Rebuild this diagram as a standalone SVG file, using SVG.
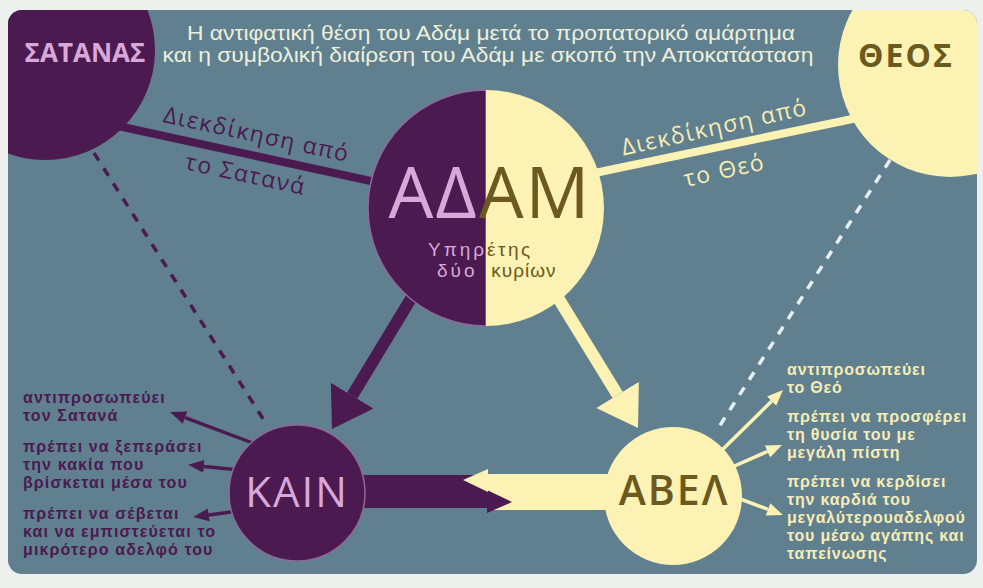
<svg xmlns="http://www.w3.org/2000/svg" width="983" height="588" viewBox="0 0 983 588">
<defs>
<clipPath id="panelClip"><rect x="8" y="10" width="969" height="564" rx="14"/></clipPath>
<marker id="bigP" markerUnits="userSpaceOnUse" markerWidth="40" markerHeight="52" viewBox="0 -26 40 52" refX="0" refY="0" orient="auto"><path d="M0,-25 L39,0 L0,25 z" fill="#4b1a50"/></marker>
<marker id="bigY" markerUnits="userSpaceOnUse" markerWidth="40" markerHeight="52" viewBox="0 -26 40 52" refX="0" refY="0" orient="auto"><path d="M0,-25 L39,0 L0,25 z" fill="#fbf2b3"/></marker>
<marker id="smP" markerUnits="userSpaceOnUse" markerWidth="17" markerHeight="14" viewBox="0 -7 17 14" refX="0" refY="0" orient="auto"><path d="M0,-6.5 L16,0 L0,6.5 z" fill="#4b1a50"/></marker>
<marker id="smY" markerUnits="userSpaceOnUse" markerWidth="17" markerHeight="14" viewBox="0 -7 17 14" refX="0" refY="0" orient="auto"><path d="M0,-6.5 L16,0 L0,6.5 z" fill="#fbf2b3"/></marker>
</defs>
<style>
text{font-family:"Open Sans","Noto Sans","DejaVu Sans",sans-serif;}
.small{font-family:"Liberation Sans","DejaVu Sans",sans-serif;}
.title{font-size:19.5px;fill:#eef0dc;text-anchor:middle;}
.pur{fill:#4b1a50;}
.yel{fill:#fbf2b3;}
.pink{fill:#d8a8d8;}
.olive{fill:#6b5920;}
.noteL{font-size:16px;font-weight:700;fill:#4b1a50;letter-spacing:1.1px;}
.noteR{font-size:16px;font-weight:700;fill:#f7ecb4;letter-spacing:0.8px;}
.lblL{font-size:23px;fill:#4b1a50;text-anchor:middle;letter-spacing:1.5px;}
.lblR{font-size:23px;fill:#f7ecb4;text-anchor:middle;letter-spacing:1.5px;}
.thickP{stroke:#4b1a50;stroke-width:8;fill:none;}
.thickY{stroke:#fbf2b3;stroke-width:8;fill:none;}
.dashP{stroke:#4b1a50;stroke-width:3.5;stroke-dasharray:9 9;fill:none;}
.dashY{stroke:#e6eef0;stroke-width:3.5;stroke-dasharray:9 9;fill:none;}
.shaftP{stroke:#4b1a50;stroke-width:12;fill:none;}
.shaftY{stroke:#fbf2b3;stroke-width:12;fill:none;}
.thinP{stroke:#4b1a50;stroke-width:3.5;fill:none;}
.thinY{stroke:#fbf2b3;stroke-width:3.5;fill:none;}
</style>
<rect x="0" y="0" width="983" height="588" fill="#eef0ee"/>
<rect x="8" y="10" width="969" height="564" rx="14" fill="#60808f"/>

<g id="title">
<text class="title small" x="491" y="40" textLength="608" lengthAdjust="spacingAndGlyphs">Η αντιφατική θέση του Αδάμ μετά το προπατορικό αμάρτημα</text>
<text class="title small" x="488" y="62" textLength="651" lengthAdjust="spacingAndGlyphs">και η συμβολική διαίρεση του Αδάμ με σκοπό την Αποκατάσταση</text>
</g>

<g id="connectors">
<line class="thickP" x1="118" y1="126" x2="380" y2="183"/>
<line class="thickY" x1="590" y1="174" x2="862" y2="117"/>
<line class="dashP" x1="94" y1="153" x2="267" y2="425"/>
<line class="dashY" x1="890" y1="160" x2="717" y2="430"/>
<line class="shaftP" x1="418" y1="287" x2="352.2" y2="395.6" marker-end="url(#bigP)"/>
<line class="shaftY" x1="552" y1="288" x2="617.6" y2="394.8" marker-end="url(#bigY)"/>
<rect x="340" y="475" width="147" height="33" class="pur"/>
<rect x="488" y="474" width="170" height="36" class="yel"/>
<polygon points="487,490 487,513 512,502" class="pur"/>
<polygon points="463,480 488,469 488,492" class="yel"/>
<line class="thinP" x1="258" y1="445" x2="185" y2="417.6" marker-end="url(#smP)"/>
<line class="thinP" x1="240" y1="470" x2="204" y2="466.4" marker-end="url(#smP)"/>
<line class="thinP" x1="238" y1="511" x2="208.9" y2="514.9" marker-end="url(#smP)"/>
<line class="thinY" x1="718" y1="454" x2="771.6" y2="401.2" marker-end="url(#smY)"/>
<line class="thinY" x1="730" y1="468" x2="767.4" y2="451.5" marker-end="url(#smY)"/>
<line class="thinY" x1="735" y1="497" x2="768" y2="509.4" marker-end="url(#smY)"/>
<text class="lblL" transform="translate(255,142) rotate(12.2)">Διεκδίκηση από</text>
<text class="lblL" transform="translate(244,182) rotate(12.2)">το Σατανά</text>
<text class="lblR" transform="translate(716,135) rotate(-12.5)">Διεκδίκηση από</text>
<text class="lblR" transform="translate(726,178) rotate(-12.5)">το Θεό</text>
</g>

<g id="satanas">
<circle cx="45" cy="50" r="110" class="pur" clip-path="url(#panelClip)"/>
<text x="85" y="62" font-size="26" font-weight="700" class="pink" text-anchor="middle">ΣΑΤΑΝΑΣ</text>
</g>

<g id="theos">
<circle cx="950" cy="65" r="112" class="yel" clip-path="url(#panelClip)"/>
<text x="906" y="67" font-size="32" font-weight="700" letter-spacing="2" class="olive" text-anchor="middle">ΘΕΟΣ</text>
</g>

<g id="adam">
<path d="M486,90 A118,118 0 0 0 486,326 Z" class="pur" stroke="#8d6b98" stroke-width="1.5"/>
<path d="M486,90 A118,118 0 0 1 486,326 Z" class="yel"/>
<text x="490" y="218" font-size="71" letter-spacing="2" text-anchor="middle"><tspan class="pink">ΑΔ</tspan><tspan class="olive">ΑΜ</tspan></text>
<text class="small" y="256" font-size="19"><tspan class="pink" x="428" letter-spacing="3">Υπηρ</tspan><tspan class="olive" x="487" letter-spacing="2.5">έτης</tspan></text>
<text class="small" y="277" font-size="19"><tspan class="pink" x="437" letter-spacing="3">δύο</tspan><tspan class="olive" x="485" letter-spacing="1"> κυρίων</tspan></text>
</g>

<g id="kain">
<circle cx="297" cy="493" r="68" class="pur" stroke="#8d6b98" stroke-width="1.5"/>
<text x="297" y="507" font-size="42" font-weight="500" letter-spacing="2" class="pink" text-anchor="middle">ΚΑΙΝ</text>
</g>

<g id="abel">
<circle cx="673" cy="496" r="69" class="yel"/>
<text x="674" y="505" font-size="41" font-weight="600" letter-spacing="2" class="olive" text-anchor="middle">ΑΒΕΛ</text>
</g>

<g id="kain-notes">
<text class="noteL small" x="23" y="403">αντιπροσωπεύει</text>
<text class="noteL small" x="23" y="421">τον Σατανά</text>
<text class="noteL small" x="23" y="452">πρέπει να ξεπεράσει</text>
<text class="noteL small" x="23" y="470">την κακία που</text>
<text class="noteL small" x="23" y="488">βρίσκεται μέσα του</text>
<text class="noteL small" x="23" y="519">πρέπει να σέβεται</text>
<text class="noteL small" x="23" y="537">και να εμπιστεύεται το</text>
<text class="noteL small" x="23" y="555">μικρότερο αδελφό του</text>
</g>

<g id="abel-notes">
<text class="noteR small" x="787" y="375">αντιπροσωπεύει</text>
<text class="noteR small" x="787" y="393">το Θεό</text>
<text class="noteR small" x="787" y="422">πρέπει να προσφέρει</text>
<text class="noteR small" x="787" y="440">τη θυσία του με</text>
<text class="noteR small" x="787" y="458">μεγάλη πίστη</text>
<text class="noteR small" x="787" y="487">πρέπει να κερδίσει</text>
<text class="noteR small" x="787" y="505">την καρδιά του</text>
<text class="noteR small" x="787" y="523">μεγαλύτερουαδελφού</text>
<text class="noteR small" x="787" y="541">του μέσω αγάπης και</text>
<text class="noteR small" x="787" y="559">ταπείνωσης</text>
</g>
</svg>
